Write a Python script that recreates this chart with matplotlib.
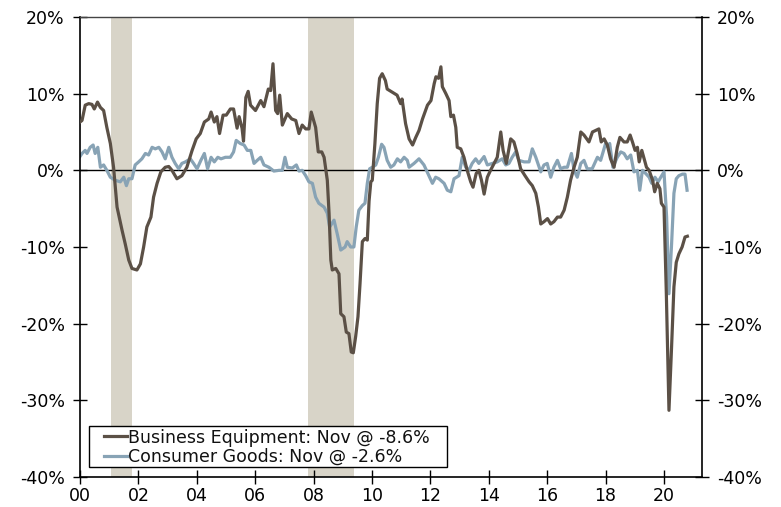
import matplotlib
matplotlib.use("Agg")
import matplotlib.pyplot as plt
from matplotlib.patches import Rectangle

# ---------------- data ----------------
be_years = [2000.00, 2000.07, 2000.18, 2000.30, 2000.41, 2000.49, 2000.60, 2000.70, 2000.81, 2000.92,
            2001.04, 2001.15, 2001.27, 2001.44, 2001.55, 2001.67, 2001.78, 2001.95, 2002.07, 2002.18,
            2002.29, 2002.43, 2002.52, 2002.64, 2002.77, 2002.92, 2003.04, 2003.15, 2003.32, 2003.49,
            2003.66, 2003.84, 2003.98, 2004.12, 2004.26, 2004.41, 2004.49, 2004.60, 2004.69, 2004.78,
            2004.90, 2005.01, 2005.15, 2005.26, 2005.38, 2005.45, 2005.55, 2005.60, 2005.68, 2005.76,
            2005.84, 2006.01, 2006.19, 2006.30, 2006.45, 2006.53, 2006.61, 2006.70, 2006.77, 2006.84,
            2006.93, 2007.10, 2007.25, 2007.39, 2007.50, 2007.61, 2007.73, 2007.84, 2007.92, 2008.07,
            2008.16, 2008.28, 2008.36, 2008.47, 2008.53, 2008.59, 2008.64, 2008.76, 2008.87, 2008.93,
            2009.04, 2009.12, 2009.21, 2009.29, 2009.36, 2009.44, 2009.52, 2009.59, 2009.67, 2009.76,
            2009.84, 2009.90, 2009.96, 2010.01, 2010.10, 2010.18, 2010.26, 2010.35, 2010.46, 2010.52,
            2010.69, 2010.86, 2010.98, 2011.03, 2011.15, 2011.27, 2011.39, 2011.50, 2011.61, 2011.73,
            2011.90, 2012.02, 2012.13, 2012.19, 2012.28, 2012.36, 2012.41, 2012.53, 2012.64, 2012.70,
            2012.79, 2012.87, 2012.92, 2013.04, 2013.15, 2013.26, 2013.38, 2013.46, 2013.57, 2013.66,
            2013.75, 2013.84, 2013.95, 2014.06, 2014.18, 2014.29, 2014.41, 2014.49, 2014.60, 2014.75,
            2014.86, 2014.97, 2015.09, 2015.24, 2015.38, 2015.49, 2015.61, 2015.70, 2015.78, 2015.89,
            2016.01, 2016.12, 2016.23, 2016.35, 2016.46, 2016.58, 2016.69, 2016.80, 2016.92, 2017.03,
            2017.15, 2017.26, 2017.43, 2017.55, 2017.66, 2017.77, 2017.85, 2017.95, 2018.06, 2018.17,
            2018.29, 2018.40, 2018.49, 2018.63, 2018.74, 2018.84, 2018.92, 2019.01, 2019.09, 2019.15,
            2019.24, 2019.32, 2019.40, 2019.49, 2019.61, 2019.68, 2019.77, 2019.86, 2019.91, 2020.00,
            2020.08, 2020.17, 2020.26, 2020.34, 2020.42, 2020.51, 2020.62, 2020.72, 2020.80]
be_vals = [6.3, 6.5, 8.5, 8.7, 8.6, 8.0, 8.9, 8.2, 7.8, 5.6,
           3.5, 0.4, -4.8, -7.8, -9.6, -11.7, -12.8, -13.0, -12.2, -10.0,
           -7.4, -6.1, -3.5, -1.7, -0.2, 0.4, 0.5, 0.0, -1.1, -0.7,
           0.4, 2.6, 4.1, 4.8, 6.3, 6.7, 7.6, 6.3, 7.0, 4.8,
           7.2, 7.2, 8.0, 8.0, 5.5, 7.0, 5.5, 3.8, 9.5, 10.3,
           8.5, 7.8, 9.1, 8.3, 10.6, 10.4, 13.9, 7.8, 7.4, 9.8,
           5.9, 7.4, 6.7, 6.5, 4.8, 5.9, 5.4, 5.4, 7.6, 5.6,
           2.4, 2.4, 1.7, -1.3, -5.6, -11.7, -13.0, -12.8, -13.5, -18.7,
           -19.1, -21.1, -21.3, -23.7, -23.8, -21.7, -19.1, -14.8, -9.3, -8.9,
           -9.1, -4.0, -1.5, -1.3, 3.5, 8.7, 12.0, 12.6, 11.7, 10.6,
           10.2, 9.8, 8.7, 9.3, 6.1, 4.1, 3.3, 4.3, 5.2, 6.7,
           8.5, 9.1, 11.3, 12.2, 12.0, 13.5, 10.9, 10.0, 9.1, 7.0,
           7.2, 5.6, 3.0, 2.8, 1.7, 0.0, -1.5, -2.2, -0.4, 0.0,
           -1.3, -3.1, -0.9, 0.0, 0.9, 1.7, 5.0, 2.6, 0.9, 4.1,
           3.7, 2.2, 0.2, -0.7, -1.5, -2.0, -3.0, -4.8, -7.0, -6.7,
           -6.3, -7.0, -6.7, -6.1, -6.1, -5.2, -3.5, -1.3, 0.4, 1.7,
           5.0, 4.6, 3.7, 5.0, 5.2, 5.4, 3.7, 4.1, 3.3, 1.5,
           0.4, 3.0, 4.3, 3.7, 3.7, 4.6, 3.7, 2.6, 3.0, 1.1,
           2.6, 1.5, 0.4, 0.0, -1.3, -2.8, -1.7, -2.4, -4.3, -4.8,
           -16.1, -31.3, -23.0, -15.2, -12.0, -10.9, -10.0, -8.7, -8.6]

cg_years = [2000.00, 2000.07, 2000.18, 2000.24, 2000.35, 2000.45, 2000.52, 2000.61, 2000.70, 2000.81,
            2000.92, 2001.04, 2001.21, 2001.38, 2001.50, 2001.59, 2001.67, 2001.78, 2001.89, 2002.01,
            2002.12, 2002.24, 2002.35, 2002.47, 2002.58, 2002.70, 2002.81, 2002.92, 2003.04, 2003.15,
            2003.26, 2003.38, 2003.49, 2003.61, 2003.78, 2003.89, 2004.01, 2004.14, 2004.26, 2004.37,
            2004.49, 2004.60, 2004.72, 2004.83, 2004.98, 2005.15, 2005.26, 2005.35, 2005.49, 2005.62,
            2005.73, 2005.85, 2005.96, 2006.07, 2006.19, 2006.30, 2006.47, 2006.64, 2006.82, 2006.93,
            2007.02, 2007.10, 2007.27, 2007.41, 2007.50, 2007.61, 2007.73, 2007.84, 2007.96, 2008.07,
            2008.18, 2008.36, 2008.47, 2008.55, 2008.70, 2008.81, 2008.93, 2009.08, 2009.15, 2009.27,
            2009.38, 2009.46, 2009.55, 2009.67, 2009.76, 2009.84, 2009.92, 2010.01, 2010.13, 2010.22,
            2010.33, 2010.41, 2010.52, 2010.64, 2010.75, 2010.87, 2010.98, 2011.10, 2011.21, 2011.27,
            2011.44, 2011.61, 2011.78, 2011.89, 2012.07, 2012.18, 2012.29, 2012.47, 2012.58, 2012.70,
            2012.81, 2012.98, 2013.09, 2013.21, 2013.32, 2013.43, 2013.55, 2013.66, 2013.84, 2013.95,
            2014.12, 2014.29, 2014.46, 2014.58, 2014.69, 2014.80, 2014.92, 2015.03, 2015.21, 2015.38,
            2015.49, 2015.61, 2015.78, 2015.89, 2016.00, 2016.12, 2016.23, 2016.35, 2016.46, 2016.58,
            2016.69, 2016.83, 2016.92, 2017.03, 2017.15, 2017.26, 2017.37, 2017.54, 2017.72, 2017.83,
            2018.00, 2018.09, 2018.14, 2018.25, 2018.40, 2018.52, 2018.63, 2018.74, 2018.86, 2018.97,
            2019.09, 2019.17, 2019.26, 2019.37, 2019.49, 2019.58, 2019.69, 2019.80, 2019.89, 2020.00,
            2020.09, 2020.17, 2020.26, 2020.34, 2020.42, 2020.51, 2020.63, 2020.72, 2020.79]
cg_vals = [1.8, 2.2, 2.6, 2.2, 3.0, 3.3, 2.2, 3.0, 0.4, 0.7,
           0.0, -0.9, -1.3, -1.5, -0.9, -2.0, -1.1, -1.1, 0.7, 1.1,
           1.5, 2.2, 2.0, 3.0, 2.8, 3.0, 2.4, 1.5, 3.0, 1.7,
           0.9, 0.2, 0.9, 1.1, 1.5, 0.9, 0.2, 1.3, 2.2, 0.2,
           1.7, 1.1, 1.7, 1.5, 1.7, 1.7, 2.4, 3.9, 3.5, 3.3,
           2.6, 2.6, 0.9, 1.3, 1.7, 0.7, 0.4, -0.1, 0.0, 0.0,
           1.7, 0.4, 0.3, 0.7, -0.1, 0.0, -0.7, -1.5, -1.7, -3.5,
           -4.3, -4.8, -5.6, -7.4, -6.5, -8.3, -10.4, -10.0, -9.3, -10.0,
           -10.0, -7.4, -5.2, -4.6, -4.3, -1.7, 0.2, 0.4, 0.7, 1.7,
           3.4, 3.0, 1.3, 0.4, 0.7, 1.5, 1.1, 1.7, 1.3, 0.4,
           0.9, 1.5, 0.7, -0.2, -1.7, -0.9, -1.1, -1.7, -2.6, -2.8,
           -1.1, -0.7, 1.7, 0.4, 0.0, 0.9, 1.5, 0.9, 1.8, 0.7,
           0.9, 1.1, 1.5, 0.7, 0.9, 1.7, 2.4, 1.3, 1.1, 1.1,
           2.8, 1.7, -0.2, 0.7, 0.9, -0.9, 0.4, 1.3, 0.2, 0.4,
           0.4, 2.2, 0.0, -0.9, 0.9, 1.3, 0.2, 0.2, 1.7, 1.3,
           3.5, 3.0, 3.5, 0.4, 1.7, 2.4, 2.2, 1.5, 2.0, -0.2,
           0.0, -2.6, 0.0, -0.4, -0.9, -1.7, -0.9, -1.5, -0.9, -0.2,
           -6.1, -16.1, -9.6, -3.0, -1.1, -0.7, -0.5, -0.5, -2.6]

recessions = [(2001.06, 2001.78), (2007.81, 2009.38)]
y_ticks = [20, 10, 0, -10, -20, -30, -40]
y_labels = ["20%", "10%", "0%", "-10%", "-20%", "-30%", "-40%"]
x_ticks = [2000, 2002, 2004, 2006, 2008, 2010, 2012, 2014, 2016, 2018, 2020]
x_labels = ["00", "02", "04", "06", "08", "10", "12", "14", "16", "18", "20"]
label_be = "Business Equipment: Nov @ -8.6%"
label_cg = "Consumer Goods: Nov @ -2.6%"

# ---------------- plot ----------------
plt.rcParams['font.family'] = ['DejaVu Sans']
fig = plt.figure(figsize=(7.81, 5.07), dpi=100)
ax = fig.add_axes([0.1024, 0.0592, 0.7964, 0.9073])

for a, b in recessions:
    ax.axvspan(a, b, color="#d8d4c8", lw=0, zorder=0)
ax.axhline(0, color="black", lw=1.0, zorder=1)
ax.plot(be_years, be_vals, color="#5b5046", lw=2.3, label=label_be, zorder=3, solid_joinstyle="round")
ax.plot(cg_years, cg_vals, color="#88a3b5", lw=2.3, label=label_cg, zorder=2, solid_joinstyle="round")

ax.set_xlim(2000, 2021.3)
ax.set_ylim(-40, 20)
ax.set_xticks(x_ticks)
ax.set_xticklabels(x_labels)
ax.set_yticks(y_ticks)
ax.set_yticklabels(y_labels)
ax.tick_params(axis="both", direction="inout", length=10, width=1, labelsize=12.5, colors="black")
ax.tick_params(axis="y", pad=6)
ax.tick_params(axis="x", pad=2.5)

for s in ["left", "bottom", "right"]:
    ax.spines[s].set_linewidth(1.2)
    ax.spines[s].set_color("black")
ax.spines["top"].set_linewidth(1.0)
ax.spines["top"].set_color("#444444")

ax2 = ax.twinx()
ax2.set_ylim(-40, 20)
ax2.set_yticks(y_ticks)
ax2.set_yticklabels(y_labels)
ax2.tick_params(axis="y", direction="inout", length=10, width=1, labelsize=12.5, colors="black", pad=6)
for s in ax2.spines.values():
    s.set_visible(False)

# legend box (frame drawn separately for wider horizontal padding)
ax.add_patch(Rectangle((0.0145, 0.0217), 0.5755, 0.0893, transform=ax.transAxes,
                       facecolor="white", edgecolor="black", lw=1.0, zorder=4))
leg = ax.legend(loc="lower left", bbox_to_anchor=(0.038, 0.024), fontsize=12.5, frameon=False,
                handlelength=1.35, handletextpad=0.05, borderpad=0.0, labelspacing=0.08,
                borderaxespad=0)
leg.set_zorder(5)
for t in leg.get_texts():
    t.set_color("#111111")

fig.savefig("out.png", dpi=100)
